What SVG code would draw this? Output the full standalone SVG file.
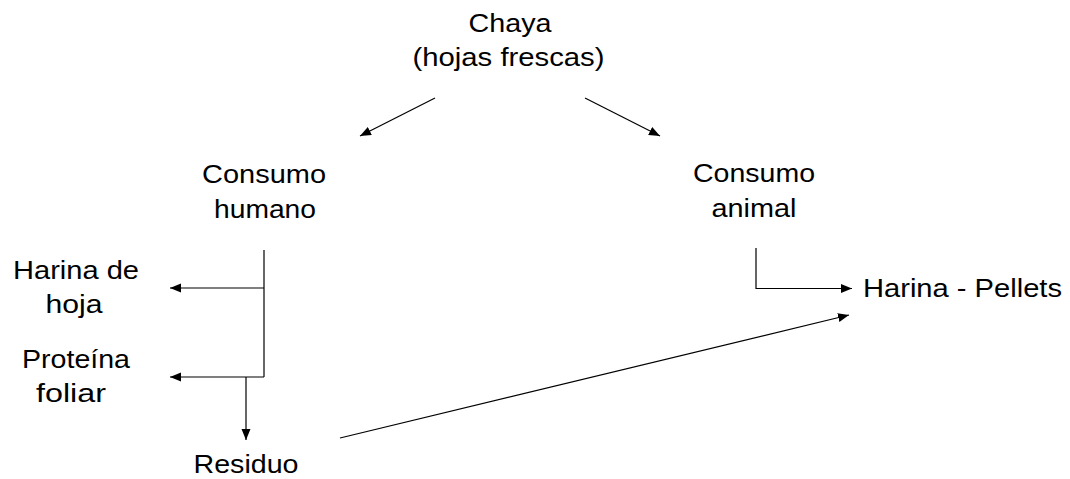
<svg xmlns="http://www.w3.org/2000/svg" width="1070" height="479" viewBox="0 0 1070 479">
<style>
  .t { font-family: "Liberation Sans", Arial, sans-serif; font-size: 26px; fill: #000; }
  .c { text-anchor: middle; }
  .ln { stroke: #000; stroke-width: 1.2; fill: none; }
</style>
<defs>
  <marker id="ah" markerUnits="userSpaceOnUse" markerWidth="12" markerHeight="10" refX="11" refY="4.5" orient="auto">
    <path d="M0,0 L11,4.5 L0,9 z" fill="#000"/>
  </marker>
</defs>
<rect width="1070" height="479" fill="#fff"/>
<g id="chaya">
  <text class="t c" x="510" y="32" textLength="83" lengthAdjust="spacingAndGlyphs">Chaya</text>
  <text class="t c" x="508.5" y="66" textLength="192" lengthAdjust="spacingAndGlyphs">(hojas frescas)</text>
</g>
<g id="consumo-humano">
  <text class="t c" x="264" y="183" textLength="124" lengthAdjust="spacingAndGlyphs">Consumo</text>
  <text class="t c" x="265" y="218" textLength="102" lengthAdjust="spacingAndGlyphs">humano</text>
</g>
<g id="consumo-animal">
  <text class="t c" x="754" y="182" textLength="122" lengthAdjust="spacingAndGlyphs">Consumo</text>
  <text class="t c" x="754" y="217" textLength="85" lengthAdjust="spacingAndGlyphs">animal</text>
</g>
<g id="harina-hoja">
  <text class="t c" x="76" y="279" textLength="126" lengthAdjust="spacingAndGlyphs">Harina de</text>
  <text class="t c" x="74" y="313" textLength="57" lengthAdjust="spacingAndGlyphs">hoja</text>
</g>
<g id="proteina-foliar">
  <text class="t c" x="76" y="368" textLength="108" lengthAdjust="spacingAndGlyphs">Proteína</text>
  <text class="t c" x="71" y="402" textLength="70" lengthAdjust="spacingAndGlyphs">foliar</text>
</g>
<g id="residuo">
  <text class="t c" x="246" y="473" textLength="105" lengthAdjust="spacingAndGlyphs">Residuo</text>
</g>
<g id="harina-pellets">
  <text class="t" x="863" y="297" textLength="199" lengthAdjust="spacingAndGlyphs">Harina - Pellets</text>
</g>
<g id="connectors">
  <line class="ln" x1="435" y1="98" x2="360" y2="136" marker-end="url(#ah)"/>
  <line class="ln" x1="585" y1="98" x2="660" y2="136" marker-end="url(#ah)"/>
  <line class="ln" x1="264" y1="250" x2="264" y2="377"/>
  <line class="ln" x1="264" y1="288" x2="170" y2="288" marker-end="url(#ah)"/>
  <line class="ln" x1="264" y1="377" x2="170" y2="377" marker-end="url(#ah)"/>
  <line class="ln" x1="246" y1="377" x2="246" y2="440" marker-end="url(#ah)"/>
  <polyline class="ln" points="756,248 756,288.5 852,288.5" marker-end="url(#ah)"/>
  <line class="ln" x1="340" y1="438" x2="849" y2="315" marker-end="url(#ah)"/>
</g>
</svg>
